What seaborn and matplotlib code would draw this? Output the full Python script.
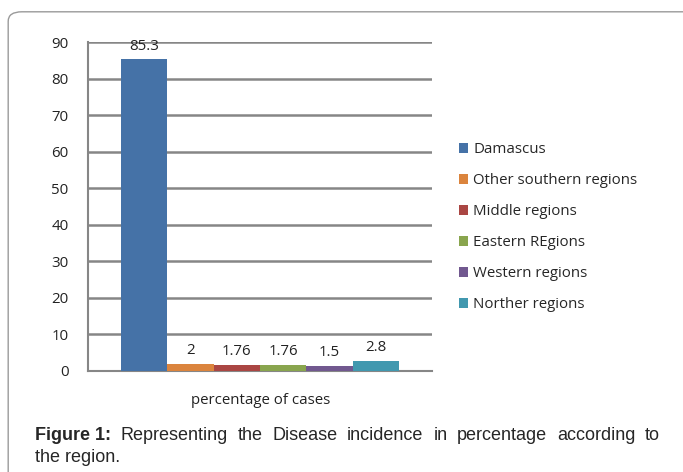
import matplotlib.pyplot as plt
import pandas as pd
import seaborn as sns
from matplotlib.patches import FancyBboxPatch

# Data
regions = ["Damascus", "Other southern regions", "Middle regions",
           "Eastern REgions", "Western regions", "Norther regions"]
values = [85.3, 2, 1.76, 1.76, 1.5, 2.8]
value_labels = ["85.3", "2", "1.76", "1.76", "1.5", "2.8"]
category = "percentage of cases"
colors = ["#4572A7", "#DB843D", "#AA4643", "#89A54E", "#71588F", "#4198AF"]
caption_bold = "Figure 1:"
caption_line1 = "Representing the Disease incidence in percentage according to"
caption_line2 = "the region."

df = pd.DataFrame({"group": [category] * len(regions), "region": regions, "value": values})

sns.set_style("white")
plt.rcParams["font.family"] = ["Open Sans", "DejaVu Sans"]

W, H = 683, 472
FS = 10.8
fig = plt.figure(figsize=(W / 100, H / 100), dpi=100)
ax = fig.add_axes([0.129, 0.214, 0.503, 0.697])

sns.barplot(data=df, x="group", y="value", hue="region", hue_order=regions,
            palette=colors, width=0.81, saturation=1, linewidth=0, ax=ax,
            legend=True, zorder=3)

for cont, lab in zip(ax.containers, value_labels):
    ax.bar_label(cont, labels=[lab], padding=4, fontsize=FS, color="#222222")

ax.set_ylim(0, 90)
ax.set_yticks(range(0, 91, 10))
ax.set_xlim(-0.5, 0.5)
ax.set_xticks([-0.5, 0.5])
ax.set_xticklabels(["", ""])
ax.yaxis.grid(True, color="#868686", linewidth=1.8, zorder=0)
ax.set_axisbelow(True)
for s in ["top", "right"]:
    ax.spines[s].set_visible(False)
for s in ["left", "bottom"]:
    ax.spines[s].set_color("#868686")
    ax.spines[s].set_linewidth(1.5)
ax.tick_params(axis="y", length=5, color="#868686", width=1.5, labelsize=FS,
               labelcolor="#222222", pad=9)
ax.tick_params(axis="x", length=5, color="#868686", width=1.5, direction="out")
ax.set_xlabel("")
ax.set_ylabel("")
fig.text(0.381, 1 - 400 / H, category, ha="center", va="center", fontsize=FS,
         color="#222222")

ax.legend(loc="center left", bbox_to_anchor=(1.041, 0.437), frameon=False,
          fontsize=FS, handlelength=0.6, handleheight=0.6, handletextpad=0.33,
          labelspacing=1.07, title=None)

# rounded outer frame
frame = FancyBboxPatch((0.012, -0.05), 1.1, 1.025,
                       boxstyle="round,pad=0,rounding_size=0.02",
                       transform=fig.transFigure, fill=False,
                       edgecolor="#9a9a9a", linewidth=1.0)
fig.patches.append(frame)

# caption, first line justified between x=35 and x=660 px
cap_font = dict(fontsize=13, family="Liberation Sans", va="center", ha="left")
y1, y2 = 1 - 435 / H, 1 - 457 / H
tokens = [(caption_bold, "bold")] + [(w, "normal") for w in caption_line1.split()]
texts = [fig.text(0, y1, t, fontweight=fw, **cap_font) for t, fw in tokens]
fig.canvas.draw()
renderer = fig.canvas.get_renderer()
widths = [t.get_window_extent(renderer).width for t in texts]
left, right = 35, 660
gap = (right - left - sum(widths)) / (len(texts) - 1)
x = left
for t, w in zip(texts, widths):
    t.set_x(x / W)
    x += w + gap
fig.text(left / W, y2, caption_line2, **cap_font)

fig.savefig("out.png", dpi=100)
